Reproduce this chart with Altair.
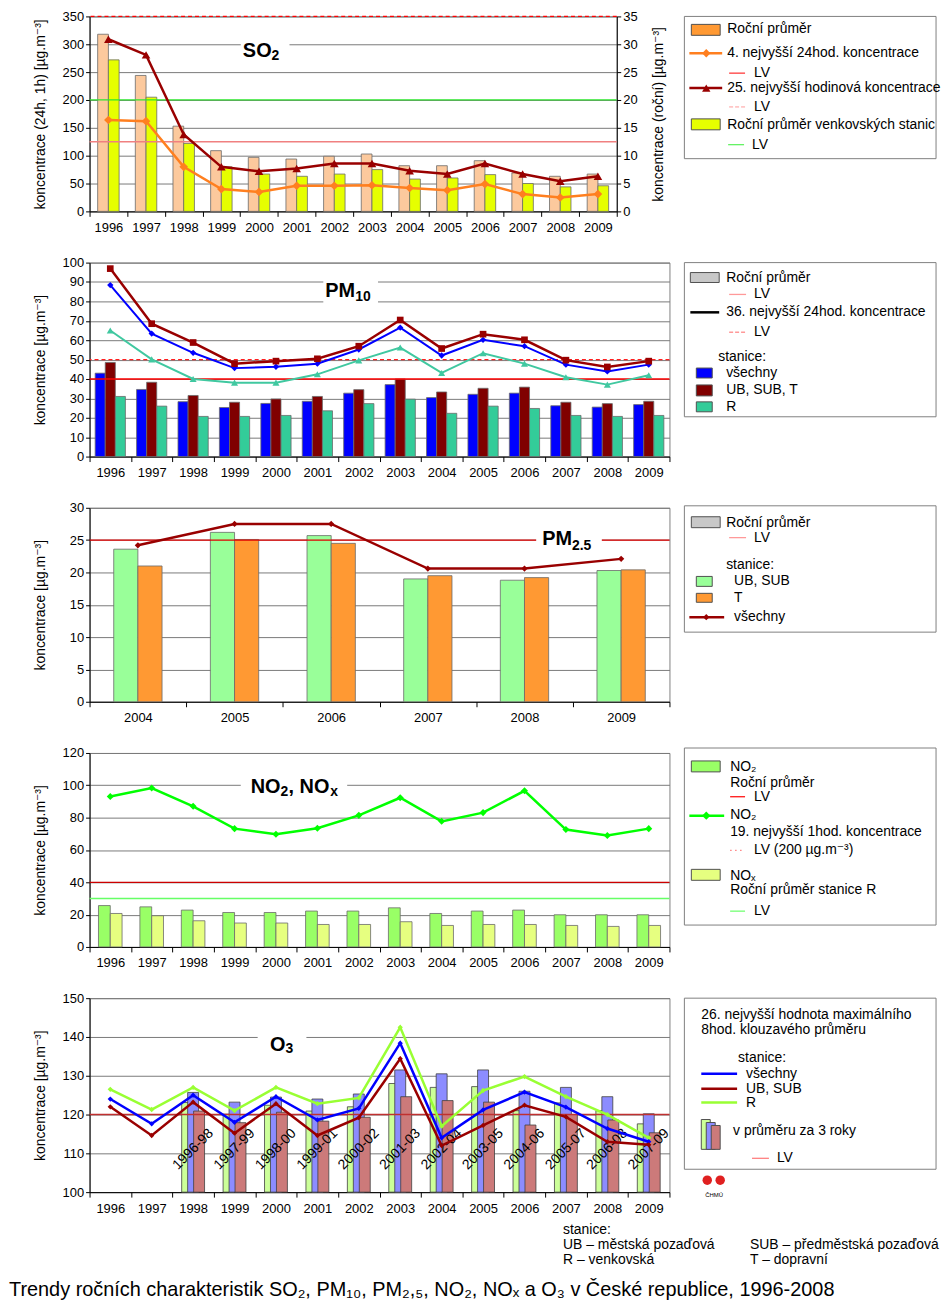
import altair as alt
import pandas as pd

FONT = "Liberation Sans, DejaVu Sans"
NARROW = "Liberation Sans Narrow, Liberation Sans, DejaVu Sans"

# ---------------- categories ----------------
YEARS = [str(y) for y in range(1996, 2010)]
PM25_YEARS = [str(y) for y in range(2004, 2010)]
O3_BAR_YEARS = [str(y) for y in range(1998, 2010)]
O3_PERIODS = ["1996-98", "1997-99", "1998-00", "1999-01", "2000-02", "2001-03",
              "2002-04", "2003-05", "2004-06", "2005-07", "2006-08", "2007-09"]

# ---------------- SO2 ----------------
so2_annual = [31.8, 24.4, 15.3, 10.9, 9.7, 9.4, 9.9, 10.3, 8.2, 8.2, 9.1, 6.9, 6.3, 6.7]
so2_rural = [27.2, 20.5, 12.2, 8.0, 6.7, 6.3, 6.7, 7.5, 5.8, 6.0, 6.6, 5.0, 4.4, 4.6]
so2_4th_24h = [164, 162, 80, 40, 35, 46, 46, 47, 42, 38, 49, 31, 25, 31]
so2_25th_1h = [309, 281, 138, 80, 72, 77, 86, 86, 73, 67, 86, 67, 54, 63]
so2_lv_24h = 125
so2_lv_1h = 350
so2_lv_rural = 20

# ---------------- PM10 ----------------
pm10_avg_all = [43.0, 34.6, 28.3, 25.3, 27.4, 28.5, 32.7, 37.1, 30.4, 32.1, 32.7, 26.2, 25.5, 26.8]
pm10_avg_ubsubt = [48.5, 38.3, 31.5, 28.0, 29.7, 31.0, 34.5, 40.0, 33.3, 35.2, 35.8, 28.0, 27.3, 28.5]
pm10_avg_r = [31.0, 26.0, 20.7, 20.7, 21.2, 23.6, 27.3, 29.6, 22.3, 26.0, 24.8, 21.2, 20.7, 21.2]
pm10_36_all = [88.4, 63.4, 53.5, 45.6, 46.3, 47.9, 55.2, 66.5, 52.1, 60.2, 56.9, 47.4, 43.9, 47.4]
pm10_36_ubsubt = [96.9, 68.5, 58.8, 47.9, 49.2, 50.4, 56.9, 70.4, 55.7, 63.1, 60.2, 49.7, 46.2, 49.2]
pm10_36_r = [65.0, 50.1, 40.0, 38.1, 38.1, 42.4, 49.6, 56.2, 43.1, 53.3, 47.9, 40.9, 37.1, 41.9]
pm10_lv_annual = 40
pm10_lv_24h = 50

# ---------------- PM2.5 ----------------
pm25_ubsub = [23.6, 26.2, 25.7, 19.0, 18.8, 20.3]
pm25_t = [21.0, 25.1, 24.5, 19.5, 19.2, 20.4]
pm25_all = [24.2, 27.5, 27.5, 20.6, 20.6, 22.1]
pm25_lv = 25

# ---------------- NO2 / NOx ----------------
no2_annual = [25.6, 24.8, 22.8, 21.3, 21.3, 22.2, 22.2, 24.2, 20.7, 22.2, 22.8, 19.9, 19.9, 19.9]
nox_rural = [20.7, 19.3, 16.2, 14.8, 14.8, 13.9, 13.9, 15.6, 13.3, 13.9, 13.9, 13.3, 12.7, 13.3]
no2_19th_1h = [93.1, 98.3, 87.0, 73.2, 69.7, 73.4, 81.4, 92.3, 77.7, 83.1, 96.6, 72.6, 68.9, 73.2]
no2_lv_annual = 40
nox_lv = 30

# ---------------- O3 ----------------
o3_all = [124.0, 117.6, 125.0, 118.0, 124.6, 118.6, 121.6, 138.4, 114.0, 121.2, 125.8, 121.9, 116.4, 113.0]
o3_ubsub = [122.0, 114.6, 123.2, 115.2, 122.8, 114.6, 119.2, 134.4, 112.0, 117.2, 122.4, 119.4, 113.0, 112.2]
o3_r = [126.5, 121.3, 127.0, 121.0, 127.0, 122.8, 124.3, 142.5, 117.0, 126.2, 129.8, 124.6, 120.0, 114.0]
o3_3y_r = [123.1, 120.1, 122.4, 120.9, 122.0, 128.0, 127.0, 127.2, 121.0, 123.0, 121.0, 117.6]
o3_3y_all = [125.7, 123.2, 124.5, 124.0, 125.3, 131.5, 130.5, 131.5, 126.0, 127.0, 124.6, 120.2]
o3_3y_ubsub = [120.9, 117.9, 120.6, 118.3, 119.3, 124.6, 123.6, 123.2, 117.3, 120.0, 118.6, 115.3]
o3_lv = 120

# ---------------- styling ----------------
W, H = 583, 195
W_SO2, H_SO2 = 530, 196
GRID = "#7a7a7a"
DUMMY = pd.DataFrame({"k": [0]})

X_AXIS = alt.Axis(title=None, labelAngle=0, tickBand="extent", tickSize=5, labelPadding=5,
                  domainColor="black", tickColor="black", labelColor="black",
                  labelFont=FONT, labelFontSize=13, grid=False)


def y_axis(title, values, orient="left", grid=True, tx=-49, h=H):
    return alt.Axis(title=title, values=values, orient=orient, grid=grid,
                    gridColor=GRID, gridWidth=1, domainColor="black", tickColor="black",
                    tickSize=4, labelPadding=2, labelFont=FONT, labelFontSize=13,
                    labelColor="black", titleFont=FONT, titleFontSize=14,
                    titleFontWeight="normal", titleColor="black", titleAngle=270,
                    titleX=tx, titleY=h / 2, titleAlign="center", titleBaseline="middle")


def x_enc(years):
    return alt.X("year:N", sort=years,
                 scale=alt.Scale(type="band", domain=years, paddingInner=0, paddingOuter=0),
                 axis=X_AXIS)


def long_df(years, names, series, colors):
    rows = []
    for name, vals, col in zip(names, series, colors):
        for yr, v in zip(years, vals):
            rows.append({"year": yr, "series": name, "value": v, "color": col})
    return pd.DataFrame(rows)


def grouped_bars(years, names, series, colors, pad, yscale, yaxis):
    df = long_df(years, names, series, colors)
    return alt.Chart(df).mark_bar(stroke="#6a6a6a", strokeWidth=0.8).encode(
        x=x_enc(years),
        xOffset=alt.XOffset("series:N", sort=names,
                            scale=alt.Scale(type="band", domain=names, paddingInner=0,
                                            paddingOuter=pad)),
        y=alt.Y("value:Q", scale=yscale, axis=yaxis),
        fill=alt.Fill("color:N", scale=None),
    )


def series_line(years, values, color, width, shape, size, yscale, yaxis):
    df = pd.DataFrame({"year": years, "value": values})
    base = alt.Chart(df).encode(x=x_enc(years), y=alt.Y("value:Q", scale=yscale, axis=yaxis))
    return alt.layer(
        base.mark_line(color=color, strokeWidth=width),
        base.mark_point(shape=shape, size=size, filled=True, color=color, opacity=1),
    )


def lv_rule(value, color, width, yscale, yaxis, dash=None):
    df = pd.DataFrame({"value": [value]})
    kw = dict(color=color, strokeWidth=width)
    if dash:
        kw["strokeDash"] = dash
    return alt.Chart(df).mark_rule(**kw).encode(y=alt.Y("value:Q", scale=yscale, axis=yaxis))


def deco_box(x, x2, y, y2):
    return alt.Chart(DUMMY).mark_rect(fill="white").encode(
        x=alt.value(x), x2=alt.value(x2), y=alt.value(y), y2=alt.value(y2))


def deco_text(x, y, text, size, align):
    return alt.Chart(DUMMY).mark_text(text=text, fontSize=size, fontWeight="bold", font=NARROW,
                                      align=align, baseline="middle", color="black").encode(
        x=alt.value(x), y=alt.value(y))


def legend_layers(rects, rules, points, texts):
    layers = []
    rdf = pd.DataFrame(rects, columns=["x", "x2", "y", "y2", "fill", "stroke"])
    layers.append(alt.Chart(rdf).mark_rect(strokeWidth=1).encode(
        x=alt.X("x:Q", scale=None, axis=None), x2="x2:Q",
        y=alt.Y("y:Q", scale=None, axis=None), y2="y2:Q",
        fill=alt.Fill("fill:N", scale=None), stroke=alt.Stroke("stroke:N", scale=None)))
    for style in ["solid", "dash", "dot"]:
        sub = [r for r in rules if r[5] == style]
        if not sub:
            continue
        df = pd.DataFrame(sub, columns=["x", "x2", "y", "color", "w", "style"])
        kw = {}
        if style == "dash":
            kw["strokeDash"] = [4, 2]
        if style == "dot":
            kw["strokeDash"] = [1.5, 3.5]
        layers.append(alt.Chart(df).mark_rule(**kw).encode(
            x=alt.X("x:Q", scale=None, axis=None), x2="x2:Q",
            y=alt.Y("y:Q", scale=None, axis=None),
            color=alt.Color("color:N", scale=None),
            strokeWidth=alt.StrokeWidth("w:Q", scale=None)))
    if points:
        pdf = pd.DataFrame(points, columns=["x", "y", "shape", "color", "size"])
        layers.append(alt.Chart(pdf).mark_point(filled=True, opacity=1).encode(
            x=alt.X("x:Q", scale=None, axis=None), y=alt.Y("y:Q", scale=None, axis=None),
            shape=alt.Shape("shape:N", scale=None), color=alt.Color("color:N", scale=None),
            size=alt.Size("size:Q", scale=None)))
    tdf = pd.DataFrame(texts, columns=["x", "y", "text", "fs"])
    layers.append(alt.Chart(tdf).mark_text(align="left", baseline="middle", font=FONT,
                                           color="black").encode(
        x=alt.X("x:Q", scale=None, axis=None), y=alt.Y("y:Q", scale=None, axis=None),
        text="text:N", size=alt.Size("fs:Q", scale=None)))
    return layers


BOXC = "#808080"
EDGE = "#505050"

# ================= SO2 =================
so2_left = alt.Scale(domain=[0, 350], nice=False)
so2_right = alt.Scale(domain=[0, 35], nice=False)
so2_laxis = y_axis("koncentrace (24h, 1h) [µg.m⁻³]", list(range(0, 351, 50)), h=H_SO2)
so2_raxis = y_axis("koncentrace (roční) [µg.m⁻³]", list(range(0, 36, 5)), orient="right",
                   grid=False, tx=42, h=H_SO2)

so2_bar_group = alt.layer(
    grouped_bars(YEARS, ["annual", "rural"], [so2_annual, so2_rural], ["#FCC99D", "#E6FF00"],
                 0.755, so2_right, so2_raxis),
    lv_rule(so2_lv_rural, "#2EE62E", 1.3, so2_right, so2_raxis),
)
so2_line_group = alt.layer(
    lv_rule(so2_lv_24h, "#F08080", 1.3, so2_left, so2_laxis),
    lv_rule(so2_lv_1h, "#FF0000", 1.3, so2_left, so2_laxis, dash=[4, 3]),
    series_line(YEARS, so2_4th_24h, "#FF7F1F", 2.5, "diamond", 75, so2_left, so2_laxis),
    series_line(YEARS, so2_25th_1h, "#990000", 2.5, "triangle-up", 75, so2_left, so2_laxis),
)
so2_plot = alt.layer(so2_bar_group, so2_line_group).resolve_scale(y="independent")
so2_legend = legend_layers(
    rects=[(598, 851, 0, 143, "white", BOXC),
           (605, 634, 8, 19, "#FF9933", EDGE),
           (605, 634, 103, 114, "#E6FF00", EDGE)],
    rules=[(603, 636, 37, "#FF7F1F", 2.5, "solid"),
           (643, 659, 57, "#FF0000", 1, "solid"),
           (603, 636, 72, "#990000", 2.5, "solid"),
           (643, 659, 91, "#FF9999", 1, "dash"),
           (642, 658, 129, "#33EE33", 1, "solid")],
    points=[(620, 37, "diamond", "#FF7F1F", 70),
            (620, 72, "triangle-up", "#990000", 70)],
    texts=[(641, 13, "Roční průměr", 14),
           (641, 37, "4. nejvyšší 24hod. koncentrace", 14),
           (668, 57, "LV", 14),
           (641, 72, "25. nejvyšší hodinová koncentrace", 14),
           (668, 91, "LV", 14),
           (641, 109, "Roční průměr venkovských stanic", 14),
           (666, 129, "LV", 14)],
)
so2 = alt.layer(
    so2_plot,
    deco_box(152, 201, 20, 48),
    deco_text(183, 35, "SO", 20, "right"),
    deco_text(183, 40, "2", 14, "left"),
    *so2_legend,
).resolve_scale(x="independent", y="independent").properties(width=W_SO2, height=H_SO2)

# ================= PM10 =================
pm10_scale = alt.Scale(domain=[0, 100], nice=False)
pm10_axis = y_axis("koncentrace [µg.m⁻³]", list(range(0, 101, 10)))
pm10_plot = alt.layer(
    grouped_bars(YEARS, ["all", "ubsubt", "r"], [pm10_avg_all, pm10_avg_ubsubt, pm10_avg_r],
                 ["#0000FF", "#800000", "#33CC99"], 0.555, pm10_scale, pm10_axis),
    lv_rule(pm10_lv_annual, "#FF0000", 1.3, pm10_scale, pm10_axis),
    lv_rule(pm10_lv_24h, "#FF2020", 1.3, pm10_scale, pm10_axis, dash=[4, 3]),
    series_line(YEARS, pm10_36_r, "#40C8A0", 2, "triangle-up", 50, pm10_scale, pm10_axis),
    series_line(YEARS, pm10_36_all, "#0000FF", 2, "diamond", 40, pm10_scale, pm10_axis),
    series_line(YEARS, pm10_36_ubsubt, "#990000", 2.5, "square", 45, pm10_scale, pm10_axis),
)
pm10_legend = legend_layers(
    rects=[(598, 851, 0, 155, "white", BOXC),
           (604, 633, 10, 20, "#C8C8C8", EDGE),
           (610, 626, 106, 116, "#0000FF", EDGE),
           (610, 626, 123, 134, "#800000", EDGE),
           (610, 626, 140, 150, "#33CC99", EDGE)],
    rules=[(643, 660, 32, "#FF9999", 1.3, "solid"),
           (604, 633, 50, "#000000", 2.5, "solid"),
           (643, 660, 70, "#FF9999", 1.3, "dash")],
    points=[],
    texts=[(640, 15, "Roční průměr", 14),
           (668, 32, "LV", 14),
           (640, 50, "36. nejvyšší 24hod. koncentrace", 14),
           (668, 70, "LV", 14),
           (632, 95, "stanice:", 14),
           (640, 111, "všechny", 14),
           (640, 128, "UB, SUB, T", 14),
           (640, 145, "R", 14)],
)
pm10 = alt.layer(
    pm10_plot,
    deco_box(235, 290, 12, 46),
    deco_text(267, 29, "PM", 20, "right"),
    deco_text(267, 35, "10", 14, "left"),
    *pm10_legend,
).resolve_scale(x="independent", y="independent").properties(width=W, height=H)

# ================= PM2.5 =================
pm25_scale = alt.Scale(domain=[0, 30], nice=False)
pm25_axis = y_axis("koncentrace [µg.m⁻³]", list(range(0, 31, 5)))
pm25_plot = alt.layer(
    grouped_bars(PM25_YEARS, ["ubsub", "t"], [pm25_ubsub, pm25_t], ["#99FF99", "#FF9933"],
                 1.0, pm25_scale, pm25_axis),
    lv_rule(pm25_lv, "#E00000", 1.3, pm25_scale, pm25_axis),
    series_line(PM25_YEARS, pm25_all, "#990000", 2.5, "diamond", 40, pm25_scale, pm25_axis),
)
pm25_legend = legend_layers(
    rects=[(598, 851, -2, 125, "white", BOXC),
           (605, 634, 9, 20, "#C8C8C8", EDGE),
           (610, 626, 69, 79, "#99FF99", EDGE),
           (610, 626, 86, 95, "#FF9933", EDGE)],
    rules=[(643, 660, 30, "#FF9999", 1.3, "solid"),
           (603, 638, 110, "#990000", 2.5, "solid")],
    points=[(620, 110, "diamond", "#990000", 40)],
    texts=[(640, 15, "Roční průměr", 14),
           (668, 30, "LV", 14),
           (640, 58, "stanice:", 14),
           (648, 74, "UB, SUB", 14),
           (648, 91, "T", 14),
           (648, 110, "všechny", 14)],
)
pm25 = alt.layer(
    pm25_plot,
    deco_box(449, 515, 18, 48),
    deco_text(485, 31, "PM", 20, "right"),
    deco_text(485, 38, "2.5", 14, "left"),
    *pm25_legend,
).resolve_scale(x="independent", y="independent").properties(width=W, height=H)

# ================= NO2 / NOx =================
no2_scale = alt.Scale(domain=[0, 120], nice=False)
no2_axis = y_axis("koncentrace [µg.m⁻³]", list(range(0, 121, 20)))
no2_plot = alt.layer(
    grouped_bars(YEARS, ["no2", "nox"], [no2_annual, nox_rural], ["#99FF66", "#E6FF80"],
                 0.755, no2_scale, no2_axis),
    lv_rule(no2_lv_annual, "#CC0000", 1.3, no2_scale, no2_axis),
    lv_rule(nox_lv, "#66FF66", 1.5, no2_scale, no2_axis),
    series_line(YEARS, no2_19th_1h, "#00FF00", 2.5, "diamond", 50, no2_scale, no2_axis),
)
no2_legend = legend_layers(
    rects=[(598, 851, -5, 173, "white", BOXC),
           (605, 634, 8, 19, "#99FF66", EDGE),
           (605, 634, 117, 128, "#E6FF80", EDGE)],
    rules=[(644, 659, 44, "#FF0000", 1.2, "solid"),
           (603, 638, 63, "#00FF00", 2.5, "solid"),
           (644, 659, 98, "#FF8080", 1.2, "dot"),
           (644, 659, 159, "#66FF66", 1.2, "solid")],
    points=[(620, 63, "diamond", "#00FF00", 70)],
    texts=[(644, 14, "NO₂", 14),
           (644, 30, "Roční průměr", 14),
           (668, 44, "LV", 14),
           (644, 62, "NO₂", 14),
           (644, 79, "19. nejvyšší 1hod. koncentrace", 14),
           (668, 98, "LV (200 µg.m⁻³)", 14),
           (644, 124, "NOₓ", 14),
           (644, 138, "Roční průměr stanice R", 14),
           (668, 159, "LV", 14)],
)
no2 = alt.layer(
    no2_plot,
    deco_box(152, 259, 20, 50),
    deco_text(192, 34, "NO", 20, "right"),
    deco_text(192, 39, "2", 14, "left"),
    deco_text(200, 34, ", NO", 20, "left"),
    deco_text(242, 39, "x", 14, "left"),
    *no2_legend,
).resolve_scale(x="independent", y="independent").properties(width=W, height=H)

# ================= O3 =================
o3_scale = alt.Scale(domain=[100, 150], nice=False)
o3_axis = y_axis("koncentrace [µg.m⁻³]", list(range(100, 151, 10)))


def o3_bar(values, color, offset):
    df = pd.DataFrame({"year": O3_BAR_YEARS, "value": values})
    return alt.Chart(df).mark_bar(width=11, xOffset=offset, fill=color, stroke="#404040",
                                  strokeWidth=0.8).encode(
        x=x_enc(YEARS), y=alt.Y("value:Q", scale=o3_scale, axis=o3_axis), y2=alt.datum(100))


o3_lab_df = pd.DataFrame({"year": O3_BAR_YEARS, "period": O3_PERIODS})
o3_labels = alt.Chart(o3_lab_df).mark_text(angle=315, fontSize=14, font=FONT,
                                           color="black").encode(
    x=x_enc(YEARS), y=alt.value(152), text="period:N")

o3_plot = alt.layer(
    o3_bar(o3_3y_r, "#CCFF99", -6),
    o3_bar(o3_3y_all, "#8C8CFF", 0),
    o3_bar(o3_3y_ubsub, "#CC7A7A", 6),
    lv_rule(o3_lv, "#C03030", 1.5, o3_scale, o3_axis),
    o3_labels,
    series_line(YEARS, o3_r, "#99FF33", 2.5, "diamond", 28, o3_scale, o3_axis),
    series_line(YEARS, o3_all, "#0000FF", 2.5, "diamond", 28, o3_scale, o3_axis),
    series_line(YEARS, o3_ubsub, "#990000", 2.5, "diamond", 28, o3_scale, o3_axis),
)
o3_legend = legend_layers(
    rects=[(598, 851, 0, 172, "white", BOXC),
           (615, 624, 122, 152, "#CCFF99", EDGE),
           (620, 629, 125, 152, "#8C8CFF", EDGE),
           (625, 634, 128, 152, "#CC7A7A", EDGE)],
    rules=[(615, 651, 76, "#0000FF", 2.5, "solid"),
           (615, 651, 91, "#990000", 2.5, "solid"),
           (615, 651, 105, "#99FF33", 2.5, "solid"),
           (666, 683, 161, "#FF8080", 1.3, "solid")],
    points=[(621, 183, "circle", "#E02020", 90),
            (634, 183, "circle", "#E02020", 90)],
    texts=[(615, 17, "26. nejvyšší hodnota maximálního", 14),
           (615, 32, "8hod. klouzavého průměru", 14),
           (652, 60, "stanice:", 14),
           (660, 76, "všechny", 14),
           (660, 91, "UB, SUB", 14),
           (660, 105, "R", 14),
           (647, 134, "v průměru za 3 roky", 14),
           (691, 161, "LV", 14),
           (619, 198, "ČHMÚ", 6),
           (476, 233, "stanice:", 14),
           (476, 248, "UB – městská pozaďová", 14),
           (476, 263, "R – venkovská", 14),
           (664, 248, "SUB – předměstská pozaďová", 14),
           (664, 263, "T – dopravní", 14),
           (-81, 293, "Trendy ročních charakteristik SO₂, PM₁₀, PM₂,₅, NO₂, NOₓ a O₃ "
                      "v České republice, 1996-2008", 20)],
)
o3 = alt.layer(
    o3_plot,
    deco_box(169, 218, 34, 62),
    deco_text(197, 47, "O", 20, "right"),
    deco_text(197, 51, "3", 14, "left"),
    *o3_legend,
).resolve_scale(x="independent", y="independent").properties(width=W, height=H)

chart = alt.vconcat(so2, pm10, pm25, no2, o3, spacing=51.5, bounds="flush").resolve_scale(
    xOffset="independent"
).properties(
    padding={"left": 0, "top": -2, "right": 0, "bottom": 0}
).configure_view(stroke="#808080", strokeWidth=1)

chart.save("out.html", embed_options={"renderer": "svg", "actions": False})
